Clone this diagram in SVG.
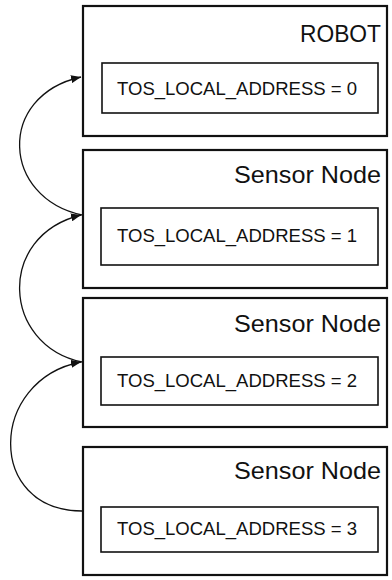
<svg xmlns="http://www.w3.org/2000/svg" width="392" height="580" viewBox="0 0 392 580">
  <style>
    .outer { fill: none; stroke: #111; stroke-width: 2.2; }
    .inner { fill: none; stroke: #111; stroke-width: 1.6; }
    .title { font-family: "Liberation Sans", Arial, sans-serif; font-size: 24px; fill: #111; text-anchor: end; }
    .addr { font-family: "Liberation Sans", Arial, sans-serif; font-size: 17.5px; fill: #111; }
    .link { fill: none; stroke: #111; stroke-width: 1.3; }
  </style>
  <defs>
    <marker id="arrow" viewBox="0 0 10 8" refX="10" refY="4" markerWidth="10" markerHeight="8" markerUnits="userSpaceOnUse" orient="auto">
      <path d="M0,0 L10,4 L0,8 Z" fill="#111"/>
    </marker>
  </defs>

  <rect width="392" height="580" fill="#fff"/>

  <!-- connectors: each node links to the node above it -->
  <g id="connectors">
    <path class="link" d="M82,215 C2,198 -4,96 81,77" marker-end="url(#arrow)"/>
    <path class="link" d="M82,362 C2,345 -4,236 81,215" marker-end="url(#arrow)"/>
    <path class="link" d="M82,511 C-14,511 -12,380 81,362" marker-end="url(#arrow)"/>
  </g>

  <g id="robot">
    <rect class="outer" x="83" y="6" width="304" height="130"/>
    <text class="title" x="381" y="42" textLength="81" lengthAdjust="spacingAndGlyphs">ROBOT</text>
    <rect class="inner" x="102" y="63" width="276" height="50"/>
    <text class="addr" x="117" y="95" textLength="240" lengthAdjust="spacingAndGlyphs">TOS_LOCAL_ADDRESS = 0</text>
  </g>

  <g id="sensor1">
    <rect class="outer" x="83" y="150" width="304" height="138"/>
    <text class="title" x="381" y="183" textLength="147" lengthAdjust="spacingAndGlyphs">Sensor Node</text>
    <rect class="inner" x="101" y="208" width="277" height="57"/>
    <text class="addr" x="117" y="242" textLength="240" lengthAdjust="spacingAndGlyphs">TOS_LOCAL_ADDRESS = 1</text>
  </g>

  <g id="sensor2">
    <rect class="outer" x="83" y="298" width="304" height="129"/>
    <text class="title" x="381" y="332" textLength="147" lengthAdjust="spacingAndGlyphs">Sensor Node</text>
    <rect class="inner" x="101" y="357" width="277" height="48"/>
    <text class="addr" x="117" y="387" textLength="240" lengthAdjust="spacingAndGlyphs">TOS_LOCAL_ADDRESS = 2</text>
  </g>

  <g id="sensor3">
    <rect class="outer" x="83" y="447" width="304" height="128"/>
    <text class="title" x="381" y="479" textLength="147" lengthAdjust="spacingAndGlyphs">Sensor Node</text>
    <rect class="inner" x="101" y="507" width="277" height="45"/>
    <text class="addr" x="117" y="535" textLength="240" lengthAdjust="spacingAndGlyphs">TOS_LOCAL_ADDRESS = 3</text>
  </g>
</svg>
